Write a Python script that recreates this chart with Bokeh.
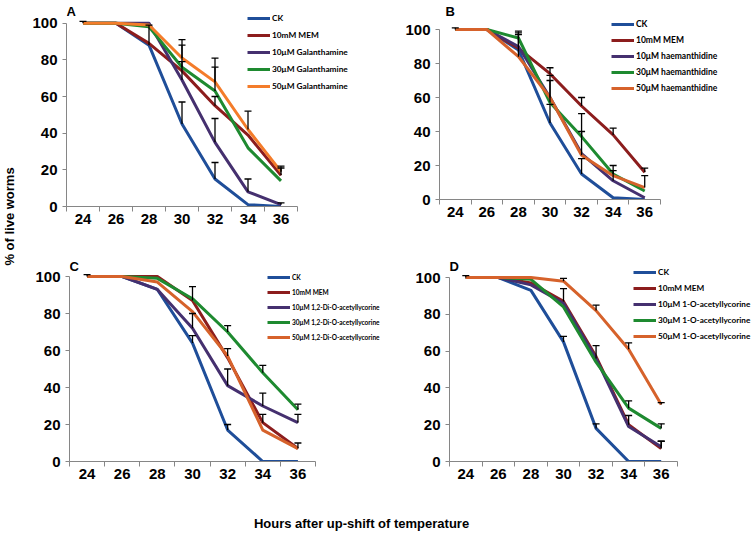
import math
from bokeh.plotting import figure
from bokeh.models import (Range1d, FixedTicker, Legend, LegendItem, Label,
                          Whisker, TeeHead, ColumnDataSource)
from bokeh.layouts import row, column
from bokeh.core.properties import value
from bokeh.core.validation import silence
from bokeh.core.validation.warnings import MISSING_RENDERERS
from bokeh.embed import file_html
from bokeh.resources import INLINE

silence(MISSING_RENDERERS, True)

# ---------------- data ----------------
hours = [24, 26, 28, 30, 32, 34, 36]
y_ticks = [0, 20, 40, 60, 80, 100]

# Panel A: Galanthamine
a_labels = ["CK", "10mM MEM", "10μM Galanthamine", "30μM Galanthamine", "50μM Galanthamine"]
a_ck = [100, 100, 88, 45, 15, 1, 0]
a_mem = [100, 100, 89, 74, 55, 39, 17]
a_10 = [100, 100, 100, 69, 35, 8, 1]
a_30 = [100, 100, 98, 76, 63, 32, 14]
a_50 = [100, 100, 99, 81, 68, 42, 19]
a_ck_err = [1, 0, 11, 12, 9, 0, 0]
a_mem_err = [0, 0, 0, 0, 5, 0, 4]
a_10_err = [0, 0, 0, 10, 13, 7, 1]
a_30_err = [0, 0, 0, 12, 13, 0, 0]
a_50_err = [0, 0, 0, 10, 13, 10, 3]

# Panel B: haemanthidine
b_labels = ["CK", "10mM MEM", "10μM haemanthidine", "30μM haemanthidine", "50μM haemanthidine"]
b_ck = [100, 100, 88, 45, 15, 1, 0]
b_mem = [100, 100, 89, 74, 55, 38, 16]
b_10 = [100, 100, 90, 60, 27, 11, 1]
b_30 = [100, 100, 95, 57, 37, 15, 5]
b_50 = [100, 100, 84, 60, 26, 14, 7]
b_ck_err = [1, 0, 0, 11, 9, 0, 0]
b_mem_err = [0, 0, 0, 3.5, 5, 4, 2.5]
b_10_err = [0, 0, 7, 0, 0, 6, 0]
b_30_err = [0, 0, 4, 16, 13.5, 5, 0]
b_50_err = [0, 0, 14, 10, 14, 0, 7]

# Panel C: 1,2-Di-O-acetyllycorine
c_labels = ["CK", "10mM MEM", "10μM 1,2-Di-O-acetyllycorine", "30μM 1,2-Di-O-acetyllycorine",
            "50μM 1,2-Di-O-acetyllycorine"]
c_ck = [100, 100, 93, 64, 17, 0, 0]
c_mem = [100, 100, 100, 87, 56, 21, 7]
c_10 = [100, 100, 93, 72, 41, 30, 21]
c_30 = [100, 100, 99, 88, 70, 48, 28]
c_50 = [100, 100, 97, 81, 57, 17, 7]
c_ck_err = [1, 0, 0, 4, 3, 0, 0]
c_mem_err = [0, 0, 0, 7.5, 0, 4.5, 3]
c_10_err = [0, 0, 0, 8, 9, 7, 4.5]
c_30_err = [0, 0, 0, 0, 3.5, 4, 3]
c_50_err = [0, 0, 0, 0, 4, 0, 0]

# Panel D: 1-O-acetyllycorine
d_labels = ["CK", "10mM MEM", "10μM 1-O-acetyllycorine", "30μM 1-O-acetyllycorine",
            "50μM 1-O-acetyllycorine"]
d_ck = [100, 100, 93, 65, 18, 0, 0]
d_mem = [100, 100, 97, 87, 57, 20, 7]
d_10 = [100, 100, 96, 86, 56, 19, 8]
d_30 = [100, 100, 99, 84, 54, 29, 18]
d_50 = [100, 100, 100, 98, 82, 61, 31]
d_ck_err = [1, 0, 0, 3, 2.5, 0, 0]
d_mem_err = [0, 0, 0, 7, 0, 5, 4]
d_10_err = [0, 0, 0, 0, 7, 0, 3]
d_30_err = [0, 0, 0, 0, 0, 4, 2.5]
d_50_err = [0, 0, 0, 1.5, 3, 3.5, 1]

# ---------------- style ----------------
BLUE = "#1F4E99"
RED = "#8C1D1D"
PURPLE = "#45306F"
GREEN = "#1E8A30"
ORANGE_A = "#F47C2A"
ORANGE = "#D6622B"
AXIS = "#868686"
FONT = "Liberation Sans"


def make_panel(letter, labels, series, errs, colors, canvas, frame, letter_pos,
               leg_pos, leg_spacing, leg_font_size):
    cx0, cy0, cx1, cy1 = canvas
    fl, fr, y100, y0 = frame
    width, height = cx1 - cx0, cy1 - cy0
    x0, x1 = hours[0] - 1, hours[-1] + 1
    # frame extends to the canvas right/top edge; axes are bounded to the data extent
    xmax = x0 + (x1 - x0) * (cx1 - fl) / (fr - fl)
    ymax = 100 * (y0 - cy0) / (y0 - y100)
    p = figure(width=width, height=height, title=None,
               x_range=Range1d(x0, xmax), y_range=Range1d(0, ymax),
               min_border_left=fl - cx0, min_border_right=0,
               min_border_top=0, min_border_bottom=cy1 - y0,
               frame_align=False,
               output_backend="svg", toolbar_location=None)
    p.outline_line_color = None
    p.xgrid.visible = False
    p.ygrid.visible = False
    p.background_fill_color = "white"
    p.border_fill_color = "white"

    bounds_ticks = [h - 1 for h in hours] + [hours[-1] + 1]
    xa = p.xaxis[0]
    xa.bounds = (x0, x1)
    xa.ticker = FixedTicker(ticks=hours, minor_ticks=bounds_ticks)
    xa.major_tick_line_color = None
    xa.major_tick_out = 5
    xa.major_tick_in = 0
    xa.minor_tick_out = 5
    xa.minor_tick_in = 0
    xa.minor_tick_line_color = AXIS
    xa.axis_line_color = AXIS
    xa.major_label_standoff = 2
    xa.major_label_text_font = FONT
    xa.major_label_text_font_style = "bold"
    xa.major_label_text_font_size = "15px"
    xa.major_label_text_color = "black"

    ya = p.yaxis[0]
    ya.ticker = FixedTicker(ticks=y_ticks)
    ya.bounds = (0, 100)
    ya.major_tick_out = 4
    ya.major_tick_in = 0
    ya.minor_tick_line_color = None
    ya.major_tick_line_color = AXIS
    ya.axis_line_color = AXIS
    ya.major_label_standoff = 5
    ya.major_label_text_font = FONT
    ya.major_label_text_font_style = "bold"
    ya.major_label_text_font_size = "15px"
    ya.major_label_text_color = "black"

    items = []
    for lab, vals, col in zip(labels, series, colors):
        r = p.line(hours, vals, line_color=col, line_width=3, line_join="round")
        items.append(LegendItem(label=value(lab), renderers=[r]))

    for vals, err in zip(series, errs):
        xs = [h for h, e in zip(hours, err) if e > 0]
        lo = [v for v, e in zip(vals, err) if e > 0]
        hi = [v + e for v, e in zip(vals, err) if e > 0]
        src = ColumnDataSource(dict(x=xs, lo=lo, hi=hi))
        w = Whisker(source=src, base="x", lower="lo", upper="hi", dimension="height",
                    line_color="black", line_width=1.3,
                    upper_head=TeeHead(size=7, line_color="black", line_width=1.3),
                    lower_head=None, level="annotation")
        p.add_layout(w)

    lx, ltop = leg_pos
    leg_bottom = ltop + 5 * 10 + 4 * leg_spacing
    legend = Legend(items=items, location=(lx - fl, y0 - leg_bottom),
                    border_line_color=None, background_fill_alpha=0,
                    padding=0, margin=0, spacing=leg_spacing,
                    glyph_width=23, glyph_height=10, label_height=10,
                    label_standoff=2, label_text_font="Lato",
                    label_text_font_style="bold", label_text_font_size=leg_font_size,
                    label_text_color="black")
    p.add_layout(legend)

    lxp, lyp = letter_pos
    p.add_layout(Label(x=lxp - fl, y=y0 - lyp, x_units="screen", y_units="screen",
                       text=letter, text_baseline="top", text_font=FONT,
                       text_font_style="bold", text_font_size="13px", text_color="black"))
    return p


colsA = [BLUE, RED, PURPLE, GREEN, ORANGE_A]
cols = [BLUE, RED, PURPLE, GREEN, ORANGE]

pA = make_panel("A", a_labels, [a_ck, a_mem, a_10, a_30, a_50],
                [a_ck_err, a_mem_err, a_10_err, a_30_err, a_50_err], colsA,
                (22, 0, 394, 240), (66, 297, 22.7, 206), (66, 3),
                (247, 13), 7, "8.3px")
pB = make_panel("B", b_labels, [b_ck, b_mem, b_10, b_30, b_50],
                [b_ck_err, b_mem_err, b_10_err, b_30_err, b_50_err], cols,
                (394, 0, 754, 240), (439, 660, 29, 199), (445, 3),
                (611, 19), 6, "8.5px")
pC = make_panel("C", c_labels, [c_ck, c_mem, c_10, c_30, c_50],
                [c_ck_err, c_mem_err, c_10_err, c_30_err, c_50_err], cols,
                (22, 240, 394, 490), (69, 315, 276, 461), (69, 258),
                (267, 272), 5, "6.5px")
pD = make_panel("D", d_labels, [d_ck, d_mem, d_10, d_30, d_50],
                [d_ck_err, d_mem_err, d_10_err, d_30_err, d_50_err], cols,
                (394, 240, 754, 490), (449, 677, 277, 461), (449, 258),
                (633, 267), 6, "8.2px")


def blank(width, height):
    b = figure(width=width, height=height, x_range=Range1d(0, 1), y_range=Range1d(0, 1),
               x_axis_type=None, y_axis_type=None, min_border=0, title=None,
               frame_align=False, output_backend="svg", toolbar_location=None)
    b.outline_line_color = None
    b.xgrid.visible = False
    b.ygrid.visible = False
    return b


ylab = blank(22, 535)
ylab.add_layout(Label(x=9, y=535 - 216, x_units="screen", y_units="screen",
                      text="% of live worms", angle=math.pi / 2, text_align="center",
                      text_baseline="middle", text_font=FONT, text_font_style="bold",
                      text_font_size="13px", text_color="black"))

xlab = blank(732, 45)
xlab.add_layout(Label(x=339, y=12, x_units="screen", y_units="screen",
                      text="Hours after up-shift of temperature", text_align="center",
                      text_baseline="middle", text_font=FONT, text_font_style="bold",
                      text_font_size="13px", text_color="black"))

layout = row(ylab, column(row(pA, pB), row(pC, pD), xlab))

open("out.html", "w").write(file_html(layout, INLINE))
